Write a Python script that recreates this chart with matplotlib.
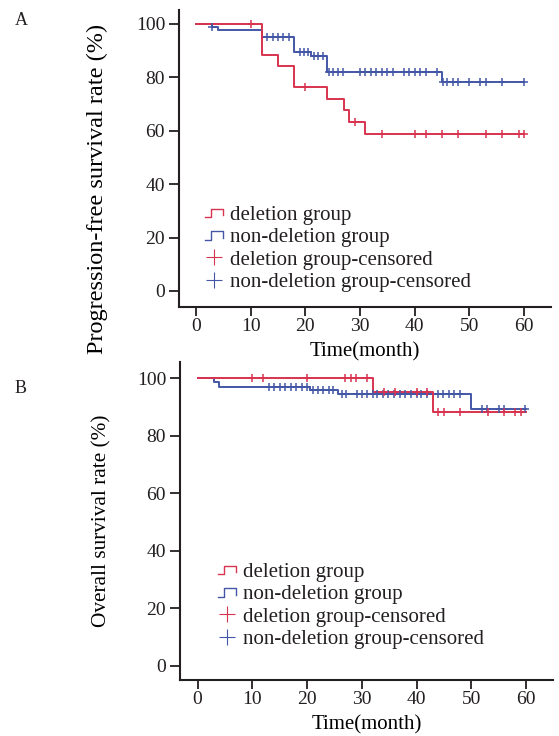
"""
Kaplan-Meier curves: PFS (A) and OS (B), deletion vs non-deletion group.
"""
import numpy as np
import matplotlib
matplotlib.use("Agg")
import matplotlib.pyplot as plt
from matplotlib.lines import Line2D
from matplotlib.legend_handler import HandlerBase

plt.rcParams['font.family'] = ['Liberation Serif', 'DejaVu Serif']
plt.rcParams['text.color'] = '#231f20'
plt.rcParams['axes.edgecolor'] = '#231f20'
plt.rcParams['xtick.color'] = '#231f20'
plt.rcParams['ytick.color'] = '#231f20'

RED = '#d8334f'
BLUE = '#4357a6'

# ---- Panel A: progression-free survival ----
pfs_del_event_t = [12, 15, 18, 24, 27, 28, 31]
pfs_del_surv = [88.2, 84.2, 76.2, 72.0, 67.8, 63.4, 58.8]
pfs_del_cens = [10, 20, 29, 34, 40, 42, 45, 48, 53, 56, 59, 60]

pfs_non_event_t = [3, 4, 12, 18, 21, 24, 45]
pfs_non_surv = [98.8, 97.6, 95.2, 89.3, 87.8, 82.0, 78.4]
pfs_non_cens = [3, 13, 14, 15, 16, 17, 19, 19.7, 20.4, 21.6, 22.4, 23.3,
                24.3, 25.1, 26, 26.9, 30, 31, 32, 33, 34, 35, 36, 38, 39,
                40, 41, 42, 44, 45.2, 46, 47, 48, 50, 52, 53, 56, 60]

# ---- Panel B: overall survival ----
os_del_event_t = [32, 43]
os_del_surv = [95.1, 88.2]
os_del_cens = [10, 12, 20, 27, 28, 29, 31, 34, 36, 40, 42, 44, 45, 48,
               53, 56, 58, 59]

os_non_event_t = [3, 4, 20.6, 25.6, 50]
os_non_surv = [98.8, 97.1, 95.9, 94.4, 89.3]
os_non_cens = [13, 14, 15, 16, 17, 18, 19, 20, 21.1, 22, 23, 24, 24.8,
               26.3, 27.2, 29.1, 30, 30.9, 32, 32.8, 33.9, 34.8, 35.9, 37,
               37.9, 38.9, 40, 40.9, 41.9, 44, 44.9, 45.9, 46.9, 48,
               51.9, 52.8, 55, 55.9, 59.8]

x_ticks = [0, 10, 20, 30, 40, 50, 60]
y_ticks = [0, 20, 40, 60, 80, 100]
legend_labels = ['deletion group', 'non-deletion group',
                 'deletion group-censored', 'non-deletion group-censored']


class StepHandler(HandlerBase):
    """little step icon used by SPSS legends"""
    def create_artists(self, legend, orig_handle, xd, yd, w, h, fontsize, trans):
        xs = np.array([0.0, 0.35, 0.35, 1.0, 1.0]) * w - xd
        ys = np.array([0.15, 0.15, 0.75, 0.75, 0.3]) * h - yd
        ln = Line2D(xs, ys, color=orig_handle.get_color(), lw=1.0, transform=trans)
        return [ln]


def km_curve(ax, event_t, surv, cens, color, end=60):
    t = np.r_[0, event_t, end]
    s = np.r_[100, surv, surv[-1]]
    line, = ax.step(t, s, where='post', color=color, lw=1.4, zorder=3)
    # censor marks sit on the curve
    idx = np.searchsorted(t, cens, side='right') - 1
    ax.plot(cens, s[idx], '+', color=color, ms=5.5, mew=1.1, zorder=4)
    return line


def style_axes(ax, xlim, ylim):
    ax.set_xlim(*xlim)
    ax.set_ylim(*ylim)
    ax.set_xticks(x_ticks)
    ax.set_yticks(y_ticks)
    for s in ['top', 'right']:
        ax.spines[s].set_visible(False)
    for s in ['left', 'bottom']:
        ax.spines[s].set_linewidth(1.5)
    ax.tick_params(axis='y', direction='out', length=7, width=1.3, pad=3, labelsize=14)
    ax.tick_params(axis='x', direction='out', length=6.5, width=1.3, pad=1.5, labelsize=14)
    ax.set_xlabel('Time(month)', fontsize=15, labelpad=5)


def add_legend(ax, red_line, blue_line, anchor):
    handles = [red_line, blue_line,
               Line2D([], [], ls='none', marker='+', ms=12, mew=0.8, color=RED),
               Line2D([], [], ls='none', marker='+', ms=12, mew=0.8, color=BLUE)]
    ax.legend(handles, legend_labels, loc='upper left', bbox_to_anchor=anchor,
              bbox_transform=ax.figure.transFigure, frameon=False,
              fontsize=15, labelspacing=0.14, handlelength=0.85,
              handletextpad=0.33, borderpad=0, borderaxespad=0,
              handler_map={red_line: StepHandler(), blue_line: StepHandler()})


fig = plt.figure(figsize=(5.59, 7.36), dpi=100)
W, H = 559, 736

# Panel A
axA = fig.add_axes([179 / W, 1 - 307 / H, 372.4 / W, 297 / H])
b1 = km_curve(axA, pfs_non_event_t, pfs_non_surv, pfs_non_cens, BLUE)
r1 = km_curve(axA, pfs_del_event_t, pfs_del_surv, pfs_del_cens, RED)
style_axes(axA, (-3.1, 65), (-6, 105.2))
axA.set_ylabel('Progression-free survival rate (%)', fontsize=17.5)
axA.yaxis.set_label_coords(-0.19, 0.397)
add_legend(axA, r1, b1, (205 / W, 1 - 205 / H))

# Panel B
axB = fig.add_axes([180 / W, 1 - 680 / H, 373.4 / W, 318 / H])
b2 = km_curve(axB, os_non_event_t, os_non_surv, os_non_cens, BLUE)
r2 = km_curve(axB, os_del_event_t, os_del_surv, os_del_cens, RED)
style_axes(axB, (-3.2, 65), (-4.9, 105.7))
axB.set_ylabel('Overall survival rate (%)', fontsize=15.3)
axB.yaxis.set_label_coords(-0.183, 0.5)
add_legend(axB, r2, b2, (218 / W, 1 - 562 / H))

fig.text(15 / W, 1 - 25 / H, 'A', fontsize=13, va='baseline')
fig.text(15 / W, 1 - 393 / H, 'B', fontsize=13, va='baseline')

fig.savefig('out.png', dpi=100)
